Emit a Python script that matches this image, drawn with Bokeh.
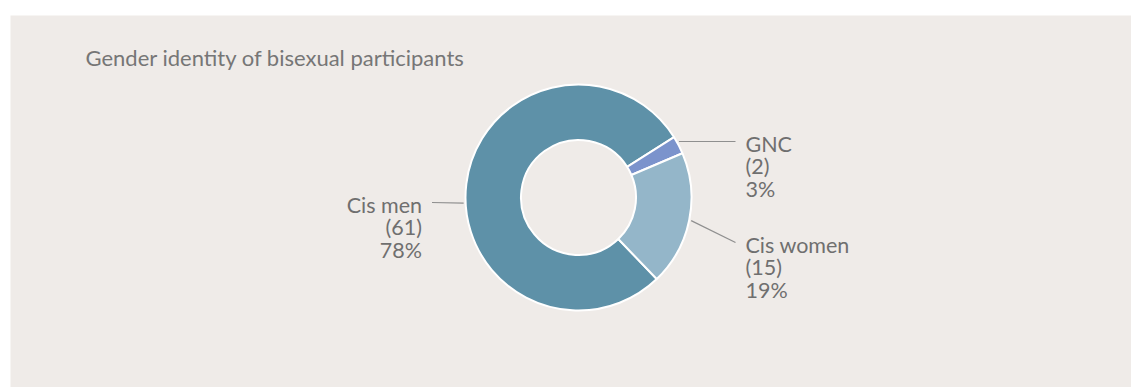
import math
from bokeh.plotting import figure
from bokeh.models import Range1d, ColumnDataSource
from bokeh.core.properties import value
from bokeh.embed import file_html
from bokeh.resources import INLINE

# ---- data ----
title_text = "Gender identity of bisexual participants"
categories = ["Cis men", "GNC", "Cis women"]
counts = [61, 2, 15]
colors = ["#5e91a8", "#7b93cc", "#94b6c9"]

# ---- layout (screen-pixel style coordinates: x right, y down -> data y = -y) ----
W, H = 1131, 387
cx, cy = 578, 197
r_out, r_in = 113, 57.5
start_deg = -46.2            # slices run clockwise from here
FONT = "Lato"
TXT = "#6f6f6f"
LINE = "#8f8f8f"
BG = "#efebe8"
label_x = [421.5, 745, 745]
label_y = [204, 143, 244]    # baseline of first line
label_align = ["right", "left", "left"]
conn_offset = [9.8, 1.5, 0.0]  # degrees
line_gap = 22.5
fs = "21.5px"

p = figure(width=W, height=H, output_backend="svg", toolbar_location=None,
           x_range=Range1d(10, 1131), y_range=Range1d(-387, -15),
           x_axis_location=None, y_axis_location=None,
           min_border_left=10, min_border_top=15, min_border_right=0, min_border_bottom=0,
           background_fill_color=BG, border_fill_color="white", outline_line_color=None)
p.xgrid.visible = False
p.ygrid.visible = False

total = sum(counts)
spans = [c / total * 2 * math.pi for c in counts]
a0 = math.radians(start_deg)
starts, ends, mids = [], [], []
cum = 0.0
for s in spans:
    hi = a0 - cum
    lo = a0 - cum - s
    starts.append(lo)
    ends.append(hi)
    mids.append((lo + hi) / 2)
    cum += s

src = ColumnDataSource(dict(x=[cx] * 3, y=[-cy] * 3, start=starts, end=ends, color=colors))
p.annular_wedge(x="x", y="y", inner_radius=r_in, outer_radius=r_out,
                start_angle="start", end_angle="end", fill_color="color",
                line_color="white", line_width=2, source=src)

# labels
tx, ty, tt, ta = [], [], [], []
lx0, ly0, lx1, ly1 = [], [], [], []
for i, cat in enumerate(categories):
    pct = round(counts[i] / total * 100)
    lines = [cat, f"({counts[i]})", f"{pct}%"]
    for k, t in enumerate(lines):
        tx.append(label_x[i])
        ty.append(-(label_y[i] + k * line_gap))
        tt.append(t)
        ta.append(label_align[i])
    ang = mids[i] + math.radians(conn_offset[i])
    sx = cx + (r_out + 2) * math.cos(ang)
    sy = cy - (r_out + 2) * math.sin(ang)
    ex = label_x[i] + (10 if label_align[i] == "right" else -10)
    ey = label_y[i] - 2
    lx0.append(sx); ly0.append(-sy); lx1.append(ex); ly1.append(-ey)

p.segment(x0=lx0, y0=ly0, x1=lx1, y1=ly1, line_color=LINE, line_width=1.2)
p.text(x=tx, y=ty, text=tt, text_align=ta, text_baseline="alphabetic",
       text_font=value(FONT), text_font_size=fs, text_color=TXT)

p.text(x=[85], y=[-57], text=[title_text], text_align="left", text_baseline="alphabetic",
       text_font=value(FONT), text_font_size="22px", text_color="#767676")

open("out.html", "w").write(file_html(p, INLINE))
